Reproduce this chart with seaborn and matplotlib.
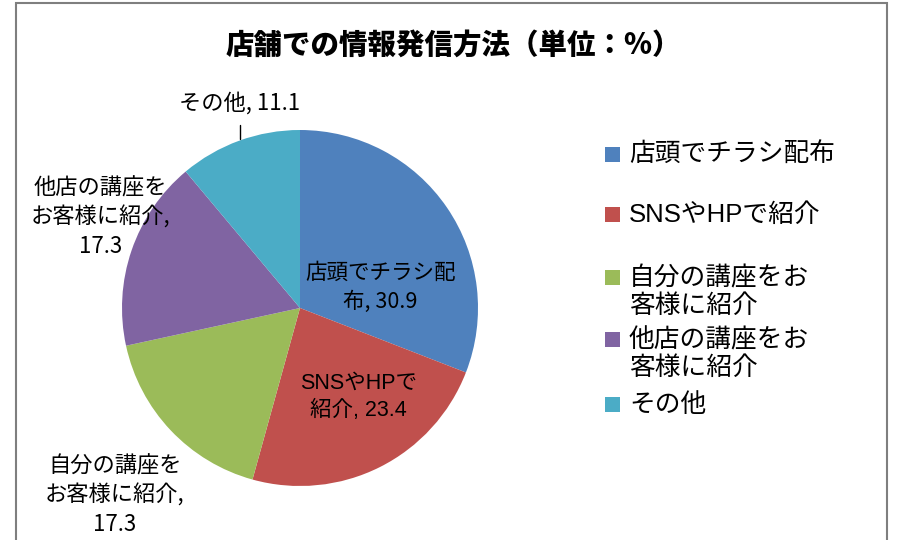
import matplotlib
matplotlib.use("Agg")
import matplotlib.pyplot as plt
import seaborn as sns
from matplotlib.patches import Rectangle

sns.set_theme(style="white")
plt.rcParams["font.family"] = ["Noto Sans CJK JP", "DejaVu Sans"]
WIDE = ["Liberation Sans", "Noto Sans CJK JP"]

title = "店舗での情報発信方法（単位：%）"
categories = ["店頭でチラシ配布", "SNSやHPで紹介", "自分の講座をお客様に紹介",
              "他店の講座をお客様に紹介", "その他"]
values = [30.9, 23.4, 17.3, 17.3, 11.1]
slice_labels = ["店頭でチラシ配\n布", "SNSやHPで\n紹介", "自分の講座を\nお客様に紹介,",
                "他店の講座を\nお客様に紹介,", "その他"]
legend_labels = ["店頭でチラシ配布", "SNSやHPで紹介", "自分の講座をお\n客様に紹介",
                 "他店の講座をお\n客様に紹介", "その他"]
colors = ["#4F81BD", "#C0504D", "#9BBB59", "#8064A2", "#4BACC6"]

W, H = 897, 540
fig = plt.figure(figsize=(W / 100, H / 100), dpi=100)

# pie geometry in pixels
cx, cy, R = 300, 308, 178
ax = fig.add_axes([(cx - 1.5 * R) / W, (H - cy - 1.5 * R) / H, 3 * R / W, 3 * R / H])

wedges, _ = ax.pie(values, colors=colors, startangle=90, counterclock=False,
                   radius=1.0, center=(0, 0), frame=True,
                   wedgeprops=dict(linewidth=0))
ax.set_xlim(-1.5, 1.5)
ax.set_ylim(-1.5, 1.5)
ax.set_aspect("equal")
ax.axis("off")

# data label placement (axis units, pie radius = 1)
label_pos = [(0.45, 0.115), (0.33, -0.50), (-1.04, -1.05), (-1.12, 0.51), (-0.34, 1.15)]
for i, (lab, v, (x, y)) in enumerate(zip(slice_labels, values, label_pos)):
    if i in (0, 1, 4):
        txt = f"{lab}, {v}"
    else:
        txt = f"{lab}\n{v}"
    kw = dict(family=WIDE) if i == 1 else {}
    ax.text(x, y, txt, ha="center", va="center", fontsize=16 if i >= 2 else 15.5,
            color="black", linespacing=1.35, clip_on=False, **kw)

# leader line for the small slice
ax.plot([-0.337, -0.337], [1.03, 0.95], color="black", lw=1.0, clip_on=False)

# title
fig.text(453 / W, 1 - 45 / H, title, ha="center", va="center",
         fontsize=20.5, fontweight=900, color="black")

# legend
leg_y = [155, 215, 278, 340, 405]
for lab, col, y in zip(legend_labels, colors, leg_y):
    fig.patches.append(Rectangle((605 / W, 1 - (y + 7) / H), 15 / W, 15 / H,
                                 transform=fig.transFigure, facecolor=col,
                                 edgecolor="none"))
    for k, line in enumerate(lab.split("\n")):
        fig.text(629 / W, 1 - (y + 28 * k) / H, line, ha="left", va="center",
                 fontsize=18.5, color="black", family=WIDE)

# chart frame
fig.patches.append(Rectangle((16 / W, -0.05), (887 - 16) / W, 1 - 3 / H + 0.05,
                             transform=fig.transFigure, fill=False,
                             edgecolor="#7f7f7f", linewidth=1.5))

fig.savefig("out.png", dpi=100)
